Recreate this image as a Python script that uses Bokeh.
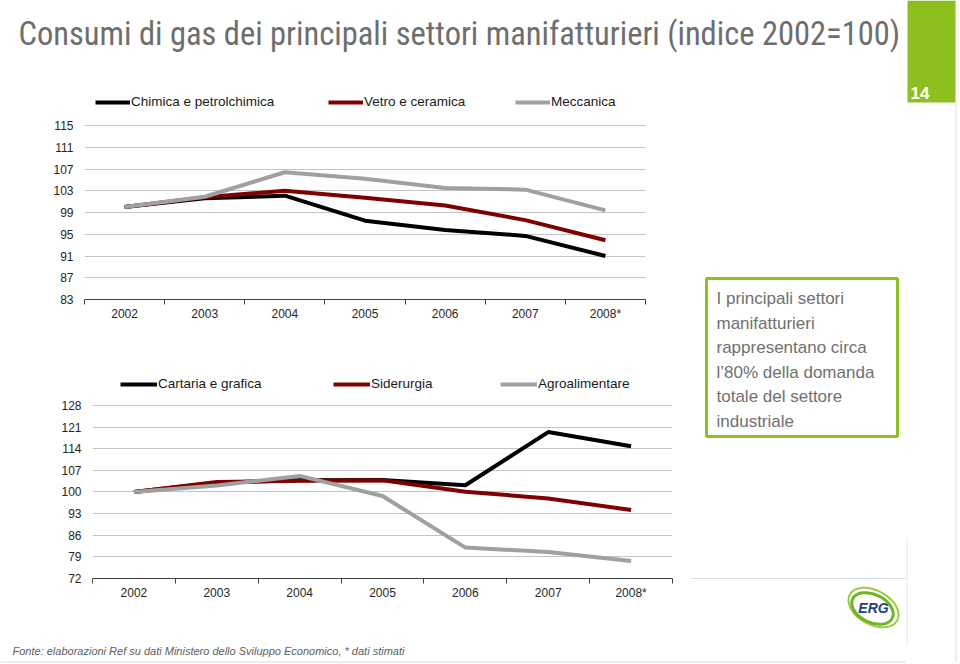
from bokeh.plotting import figure
from bokeh.layouts import row, column
from bokeh.models import Range1d, FixedTicker, Legend, LegendItem
from bokeh.core.properties import value
from bokeh.embed import file_html
from bokeh.resources import INLINE

# ---------------- data ----------------
years = [2002, 2003, 2004, 2005, 2006, 2007, 2008]
year_labels = ["2002", "2003", "2004", "2005", "2006", "2007", "2008*"]

names1 = ["Chimica e petrolchimica", "Vetro e ceramica", "Meccanica"]
chimica = [100, 101.6, 102.1, 97.5, 95.8, 94.7, 91.0]
vetro = [100, 101.8, 103.0, 101.7, 100.3, 97.6, 93.9]
meccanica = [100, 101.9, 106.4, 105.2, 103.5, 103.2, 99.4]
ticks1 = [83, 87, 91, 95, 99, 103, 107, 111, 115]

names2 = ["Cartaria e grafica", "Siderurgia", "Agroalimentare"]
cartaria = [100, 103.0, 103.8, 103.9, 102.2, 119.4, 114.8]
siderurgia = [100, 103.2, 103.6, 103.8, 100.1, 97.9, 94.2]
agroalimentare = [100, 102.1, 105.2, 98.7, 82.0, 80.6, 77.7]
ticks2 = [72, 79, 86, 93, 100, 107, 114, 121, 128]

title_text = "Consumi di gas dei principali settori manifatturieri (indice 2002=100)"
box_lines = ["I principali settori", "manifatturieri", "rappresentano circa",
             "l\u201980% della domanda", "totale del settore", "industriale"]
footnote = "Fonte: elaborazioni Ref su dati Ministero dello Sviluppo Economico, * dati stimati"
page_number = "14"

colors = ["#000000", "#800000", "#a0a0a0"]
GREEN = "#8dbf1e"
FONT = "Liberation Sans"


def chart(width, height, left, right, bottom, y_end, ticks, series, names, leg_x, leg_y, glyph_w):
    p = figure(width=width, height=height, output_backend="svg", toolbar_location=None,
               x_range=Range1d(years[0] - 0.5, years[-1] + 0.5),
               y_range=Range1d(ticks[0], y_end),
               min_border_left=left, min_border_right=right,
               min_border_top=0, min_border_bottom=bottom,
               outline_line_color=None, frame_align=False)
    bounds = [y - 0.5 for y in years] + [years[-1] + 0.5]
    p.xaxis.ticker = FixedTicker(ticks=years, minor_ticks=bounds)
    p.xaxis.major_label_overrides = {y: l for y, l in zip(years, year_labels)}
    p.xaxis.major_tick_line_color = None
    p.xaxis.major_tick_out = 0
    p.xaxis.major_tick_in = 0
    p.xaxis.minor_tick_out = 5
    p.xaxis.minor_tick_in = 0
    p.xaxis.minor_tick_line_color = "#404040"
    p.xaxis.axis_line_color = "#404040"
    p.xaxis.major_label_standoff = 2
    p.xaxis.major_label_text_font = FONT
    p.xaxis.major_label_text_font_size = "12px"
    p.xaxis.major_label_text_color = "#262626"

    p.yaxis.ticker = FixedTicker(ticks=ticks)
    p.yaxis.axis_line_color = None
    p.yaxis.major_tick_line_color = None
    p.yaxis.minor_tick_line_color = None
    p.yaxis.major_tick_out = 0
    p.yaxis.major_tick_in = 0
    p.yaxis.major_label_standoff = 11
    p.yaxis.major_label_text_font = FONT
    p.yaxis.major_label_text_font_size = "12px"
    p.yaxis.major_label_text_color = "#262626"

    p.xgrid.visible = False
    p.ygrid.ticker = FixedTicker(ticks=ticks)
    p.ygrid.grid_line_color = "#c4c4c4"
    p.ygrid.grid_line_width = 1

    for data, c, name, lx in zip(series, colors, names, leg_x):
        r = p.line(years, data, line_color=c, line_width=4)
        lg = Legend(items=[LegendItem(label=name, renderers=[r])], location=(lx, leg_y),
                    orientation="horizontal", padding=0, margin=0, spacing=0,
                    glyph_width=glyph_w, glyph_height=12, label_standoff=1,
                    label_text_font=FONT, label_text_font_size="13.5px",
                    label_text_color="#1a1a1a", background_fill_alpha=0,
                    border_line_alpha=0)
        p.add_layout(lg)
    return p


def canvas(w, h):
    p = figure(width=w, height=h, output_backend="svg", toolbar_location=None,
               x_range=Range1d(0, w), y_range=Range1d(h, 0),
               x_axis_location=None, y_axis_location=None,
               min_border=0, outline_line_color=None, frame_align=False)
    p.xgrid.visible = False
    p.ygrid.visible = False
    return p


# ---------------- title ----------------
title_fig = canvas(906, 92)
title_fig.text(x=[18], y=[33], text=[title_text], text_font=value("Roboto Condensed"),
               text_font_size="32.5px", text_color="#6e6e6e", text_baseline="middle")

# ---------------- charts ----------------
chart1 = chart(690, 258, 84, 45, 51, 121.07, ticks1,
               [chimica, vetro, meccanica], names1, [11, 244, 431], 190, 35)
chart2 = chart(690, 288, 92, 18, 60, 145.8, ticks2,
               [cartaria, siderurgia, agroalimentare], names2, [28, 241, 408], 187, 37)

# ---------------- side panel ----------------
side = canvas(216, 546)
side.quad(left=[16], right=[207], top=[186], bottom=[344], fill_color="white",
          line_color=GREEN, line_width=3)
side.text(x=[26] * len(box_lines), y=[206 + 24.6 * i for i in range(len(box_lines))],
          text=box_lines, text_font=value(FONT), text_font_size="17px",
          text_color="#707070", text_baseline="middle")
side.segment(x0=[0], y0=[486], x1=[216], y1=[486], line_color="#d3e0e8", line_width=1)
# ERG logo
side.ellipse(x=[183], y=[515], width=[54], height=[34], angle=[-0.5],
             fill_color=None, line_color="#9ccc3c", line_width=2)
side.ellipse(x=[182], y=[516], width=[44], height=[28], angle=[-0.45],
             fill_color=None, line_color="#6fb52c", line_width=3)
side.text(x=[183], y=[515], text=["ERG"], text_font=value(FONT), text_font_style="bold italic",
          text_font_size="14px", text_color="#1e3f8c", text_align="center", text_baseline="middle")

# ---------------- right strip ----------------
strip = canvas(54, 664)
strip.quad(left=[1], right=[49], top=[0], bottom=[102], fill_color=GREEN, line_color=None)
strip.text(x=[4], y=[92], text=[page_number], text_font=value(FONT), text_font_style="bold",
           text_font_size="17px", text_color="white", text_baseline="middle")
strip.segment(x0=[0.5, 49.5], y0=[537, 102], x1=[0.5, 49.5], y1=[645, 662],
              line_color="#d8dee4", line_width=1)

# ---------------- footnote ----------------
foot = canvas(906, 26)
foot.text(x=[12], y=[12], text=[footnote], text_font=value(FONT), text_font_style="italic",
          text_font_size="11px", text_color="#606060", text_baseline="middle")
foot.segment(x0=[0], y0=[23.5], x1=[906], y1=[23.5], line_color="#d8dee4", line_width=1)

layout = row(column(title_fig, row(column(chart1, chart2), side), foot), strip)

open("out.html", "w").write(file_html(layout, INLINE))
